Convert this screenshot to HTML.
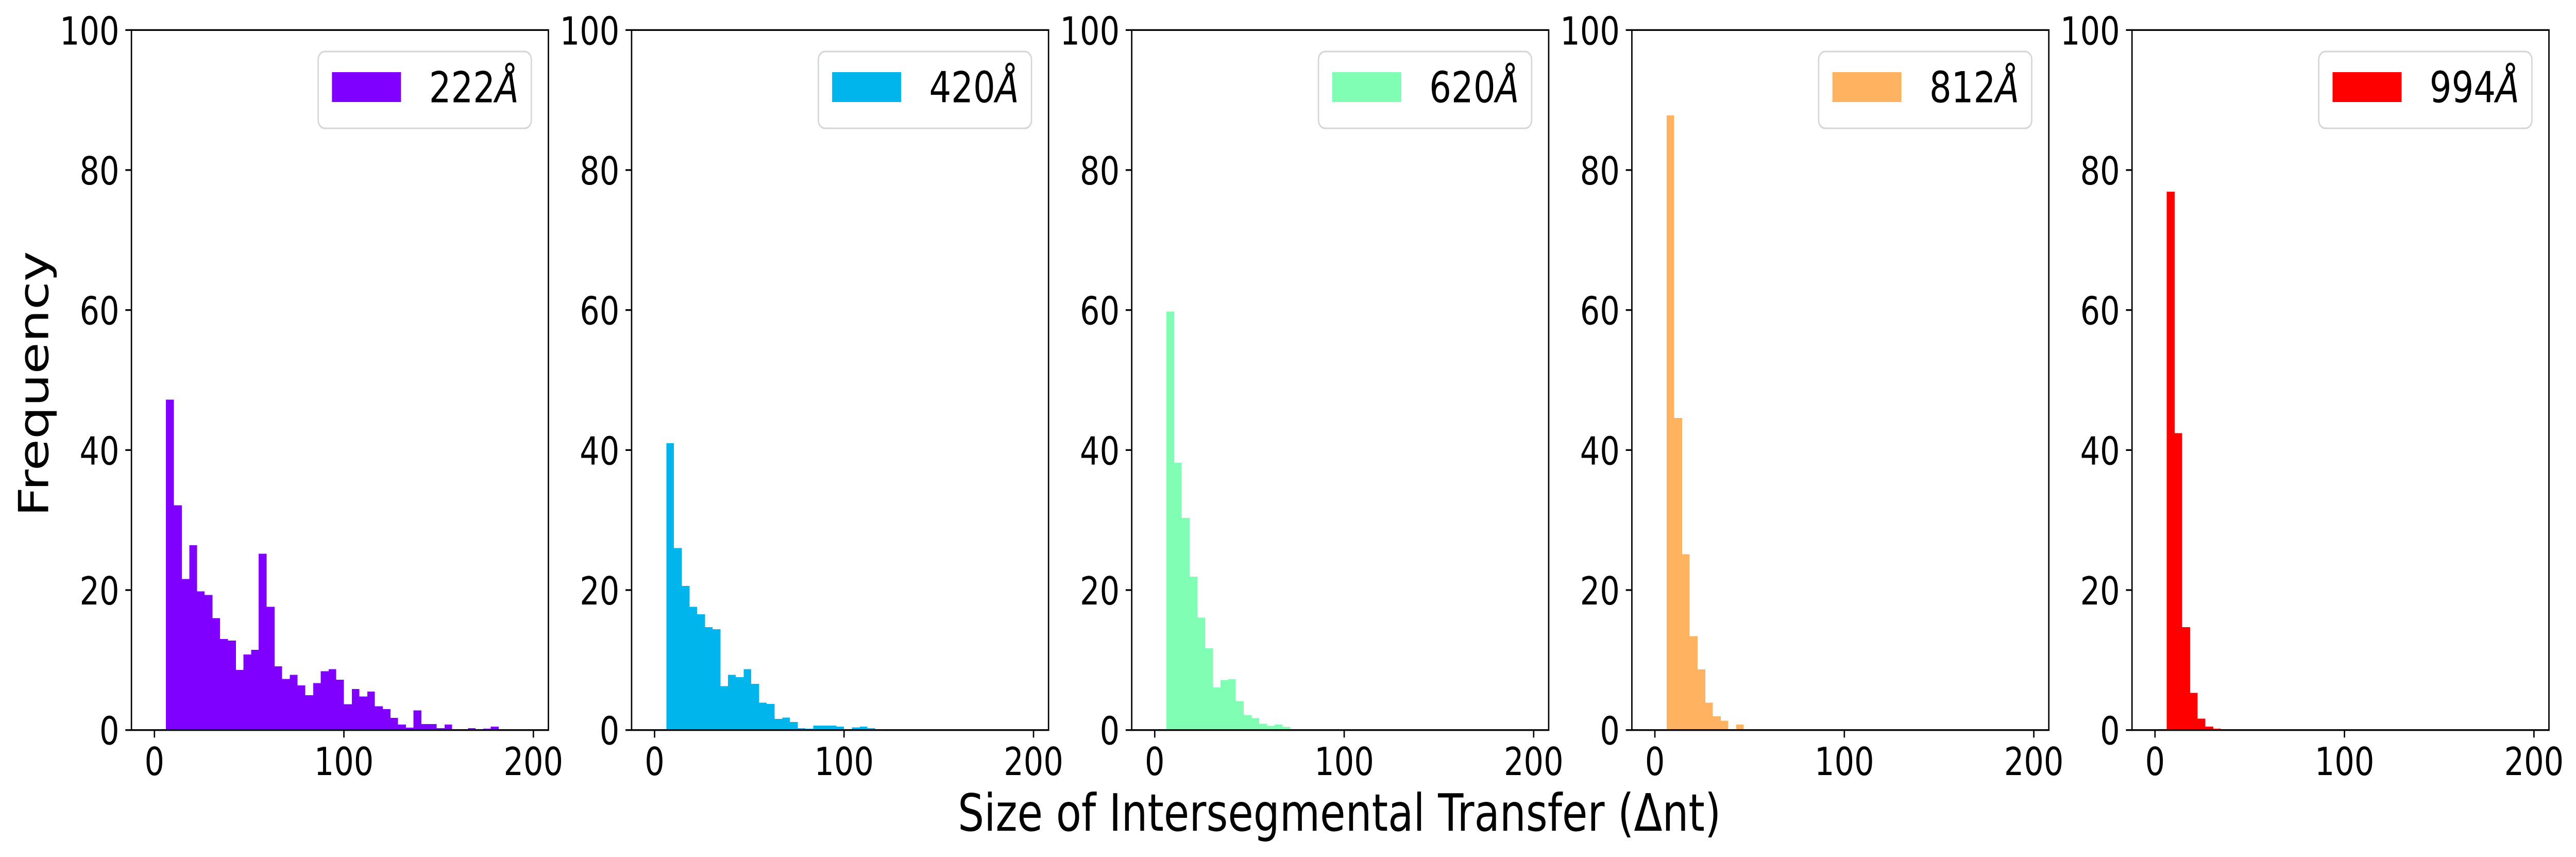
<!DOCTYPE html>
<html lang="en">
<head>
<meta charset="utf-8">
<title>Size of Intersegmental Transfer histograms</title>
<style>
  html, body { margin: 0; padding: 0; background: #fff; width: 100%; height: 100%; overflow: hidden; }
  svg { display: block; width: 100vw; height: 100vh; font-family: "DejaVu Sans", "Liberation Sans", sans-serif; fill: #000; }
  #y-title { position: absolute; left: 0; top: 0; transform-origin: 0 0; font-family: "DejaVu Sans", "Liberation Sans", sans-serif; font-size: 99.6px; line-height: 1; white-space: nowrap; color: #000; }
</style>
</head>
<body>
<svg id="chart" xmlns="http://www.w3.org/2000/svg" viewBox="0 0 6193 1663" preserveAspectRatio="none">
  <rect x="0" y="0" width="6193" height="1663" fill="#ffffff"></rect>
  <text font-size="99.6" text-anchor="middle" x="3220" y="1612">Size of Intersegmental Transfer (Δnt)</text>
</svg>
<div id="y-title">Frequency</div>
<script>
// Histogram data (frequency per bin)
const freq222 = [47.2, 32.1, 21.6, 26.4, 19.8, 19.3, 16.0, 13.0, 12.8, 8.6, 10.8, 11.45, 25.2, 17.6, 9.1, 7.3, 7.9, 6.4, 5.0, 6.7, 8.4, 8.7, 7.2, 3.7, 5.85, 4.8, 5.5, 3.4, 3.0, 1.75, 0.8, 0.34, 2.8, 0.86, 0.86, 0.27, 0.8, 0, 0, 0.27, 0, 0.2, 0.5];
const freq420 = [41.0, 26.0, 20.6, 17.6, 16.55, 14.7, 14.4, 6.26, 7.9, 7.55, 8.7, 6.6, 3.9, 3.75, 1.6, 1.77, 1.16, 0.27, 0.2, 0.64, 0.64, 0.64, 0.5, 0, 0.37, 0.5, 0.27];
const freq620 = [59.8, 38.2, 30.3, 21.9, 16.05, 11.7, 6.1, 7.15, 7.25, 4.15, 2.15, 1.7, 0.9, 0.6, 0.8, 0.47];
const freq812 = [87.8, 44.6, 25.1, 13.4, 8.65, 3.9, 1.95, 1.35, 0, 0.78];
const freq994 = [76.9, 42.4, 14.7, 5.3, 1.65, 0.5, 0.2];
const panelLabels = ['222', '420', '620', '812', '994'];
const panelSeries = [freq222, freq420, freq620, freq812, freq994];
const panelColors = ['#8000ff', '#00b5eb', '#80ffb4', '#ffb360', '#ff0000'];
const xTickValues = [0, 100, 200];
const yTickValues = [0, 20, 40, 60, 80, 100];
const firstBinEdge = 6.15;
const binWidth = 4.083;

const SVG_NS = 'http://www.w3.org/2000/svg';
const chart = document.getElementById('chart');
const firstPanelLeft = 316;
const panelPeriod = 1202.4;
const panelWidth = 1002.4;
const plotTop = 58.3;
const plotBottom = 1416.7;

function panelLeft(p) { return firstPanelLeft + p * panelPeriod; }
function xScale(p, v) { return panelLeft(p) + 55.3 + 4.555 * v; }
function yScale(v) { return plotBottom - (plotBottom - plotTop) * v / 100; }
function make(tag, attrs, parent) {
  const el = document.createElementNS(SVG_NS, tag);
  for (const k in attrs) el.setAttribute(k, attrs[k]);
  parent.appendChild(el);
  return el;
}

// Rotated y-axis title: same fit as the SVG viewBox, with the run length kept true
const fitX = window.innerWidth / 6193;
const fitY = window.innerHeight / 1663;
const runFix = 1.001;
const runShift = 50 / runFix;
document.getElementById('y-title').style.transform =
  'scale(' + fitX + ',' + fitY + ') translate(117px,745px) rotate(-90deg) scaleX(' + runFix + ') translate(-' + runShift + '%,-84px)';

panelSeries.forEach(function (series, p) {
  const label = panelLabels[p];
  const left = panelLeft(p);
  const right = left + panelWidth;

  const group = make('g', {}, chart);
  
  

  series.forEach(function (value, i) {
    const x0 = Math.round(xScale(p, firstBinEdge + i * binWidth));
    const x1 = Math.round(xScale(p, firstBinEdge + (i + 1) * binWidth));
    const yTop = yScale(value);
    const bar = make('rect', { x: x0, y: yTop, width: x1 - x0, height: plotBottom - yTop, fill: panelColors[p], 'shape-rendering': 'crispEdges' }, group);
    
    
  });

  xTickValues.forEach(function (v) {
    const x = xScale(p, v);
    const tick = make('line', { x1: x, x2: x, y1: plotBottom, y2: plotBottom + 14.6, stroke: '#000', 'stroke-width': 3.33 }, group);
    
    
    const text = make('text', { x: x, y: 1504, 'font-size': 75, 'text-anchor': 'middle' }, group);
    text.textContent = String(v);
    
    
  });

  yTickValues.forEach(function (v) {
    const y = yScale(v);
    const tick = make('line', { x1: left - 14.6, x2: left, y1: y, y2: y, stroke: '#000', 'stroke-width': 3.33 }, group);
    
    
    const text = make('text', { x: left - 29.2, y: y + 28, 'font-size': 75, 'text-anchor': 'end' }, group);
    text.textContent = String(v);
    
    
  });

  const frame = make('rect', { x: left, y: plotTop, width: panelWidth, height: plotBottom - plotTop, fill: 'none', stroke: '#000', 'stroke-width': 3.33 }, group);
  
  

  const legend = make('g', {}, group);
  
  

  const box = make('rect', { x: right - 553.5, y: 100, width: 512.5, height: 149, rx: 16, ry: 16, fill: '#ffffff', 'fill-opacity': 0.8, stroke: '#d6d6d6', 'stroke-width': 3.33 }, legend);
  
  

  const swatch = make('rect', { x: right - 520.3, y: 140, width: 166, height: 58, fill: panelColors[p] }, legend);
  
  

  const legendText = make('text', { x: right - 287, y: 198.5, 'font-size': 83.3 }, legend);
  
  
  legendText.appendChild(document.createTextNode(label));
  const angstrom = make('tspan', { 'font-style': 'italic' }, legendText);
  angstrom.textContent = 'Å';
});
</script>
</body>
</html>
